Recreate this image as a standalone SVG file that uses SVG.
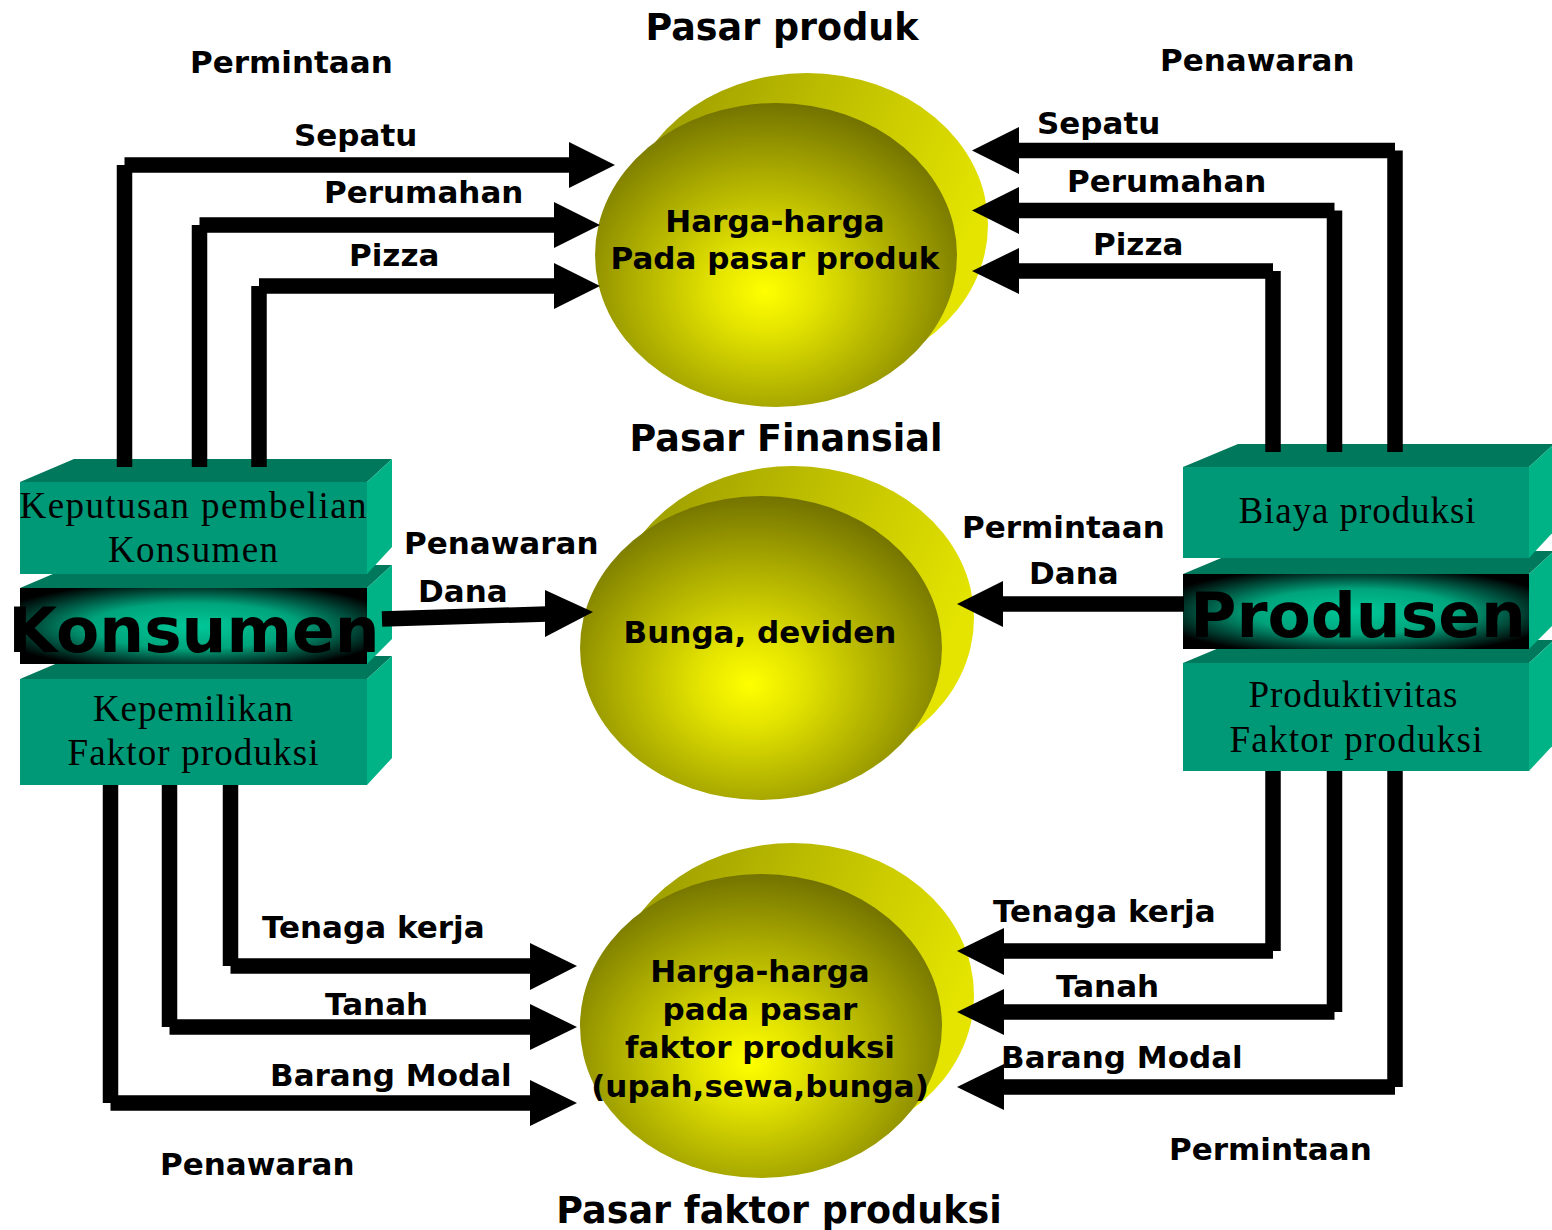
<svg xmlns="http://www.w3.org/2000/svg" width="1552" height="1230" viewBox="0 0 1552 1230">
<defs>
<radialGradient id="ball" cx="0.47" cy="0.6" r="0.6" fx="0.47" fy="0.62">
<stop offset="0" stop-color="#FFFF00"/>
<stop offset="0.25" stop-color="#E2E200"/>
<stop offset="0.65" stop-color="#A8A800"/>
<stop offset="1" stop-color="#737300"/>
</radialGradient>
<linearGradient id="back" x1="0" y1="0" x2="1" y2="0.4">
<stop offset="0" stop-color="#949400"/>
<stop offset="0.5" stop-color="#BDBD00"/>
<stop offset="1" stop-color="#E4E400"/>
</linearGradient>
<radialGradient id="glow" cx="0.5" cy="0.5" r="0.6">
<stop offset="0" stop-color="#00C898"/>
<stop offset="0.5" stop-color="#00A47C"/>
<stop offset="0.78" stop-color="#004838"/>
<stop offset="1" stop-color="#000000"/>
</radialGradient>
</defs>
<style>
.front{fill:#009977}
.top{fill:#00785C}
.side{fill:#00B386}
.glow{fill:url(#glow)}
.serif{font-family:"Liberation Serif","Times New Roman",serif;font-size:37px;fill:#000;text-anchor:middle}
.big{font-family:"DejaVu Sans",Verdana,sans-serif;font-weight:bold;font-size:63px;fill:#000;text-anchor:middle}
.lbl{font-family:"DejaVu Sans",Verdana,sans-serif;font-weight:bold;font-size:31px;fill:#000}
.ctr{text-anchor:middle}
.head{font-family:"DejaVu Sans",Verdana,sans-serif;font-weight:bold;font-size:36.5px;fill:#000;text-anchor:middle}
.ball{fill:url(#ball)}
.back{fill:url(#back)}
.ln{stroke:#000;stroke-width:15.5;fill:none;stroke-linecap:butt}
.ah{fill:#000}
</style>
<rect width="1552" height="1230" fill="#fff"/>

<g id="pasar-produk">
<ellipse class="back" cx="807" cy="225" rx="181" ry="152"/>
<ellipse class="ball" cx="776" cy="255" rx="181" ry="152"/>
<text class="lbl ctr" x="775" y="232">Harga-harga</text>
<text class="lbl ctr" x="775" y="269">Pada pasar produk</text>
</g>

<g id="pasar-finansial">
<ellipse class="back" cx="793" cy="618" rx="181" ry="152"/>
<ellipse class="ball" cx="761" cy="648" rx="181" ry="152"/>
<text class="lbl ctr" x="760" y="643">Bunga, deviden</text>
</g>

<g id="pasar-faktor">
<ellipse class="back" cx="793" cy="995" rx="181" ry="152"/>
<ellipse class="ball" cx="761" cy="1026" rx="181" ry="152"/>
<text class="lbl ctr" x="760" y="982">Harga-harga</text>
<text class="lbl ctr" x="760" y="1020">pada pasar</text>
<text class="lbl ctr" x="760" y="1058">faktor produksi</text>
<text class="lbl ctr" x="760" y="1097">(upah,sewa,bunga)</text>
</g>

<g id="konsumen">
<polygon class="top" points="20,679 74,656 392,656 367,679"/>
<polygon class="side" points="367,679 392,656 392,758 367,785"/>
<rect class="front" x="20" y="679" width="347" height="106"/>
<polygon class="top" points="20,588 74,565 392,565 367,588"/>
<polygon class="side" points="367,588 392,565 392,639 367,664"/>
<rect class="glow" x="20" y="588" width="347" height="76"/>
<polygon class="top" points="20,482 74,459 392,459 367,482"/>
<polygon class="side" points="367,482 392,459 392,547 367,574"/>
<rect class="front" x="20" y="482" width="347" height="92"/>
<text class="serif" x="193" y="518" textLength="347" lengthAdjust="spacing">Keputusan pembelian</text>
<text class="serif" x="193" y="562" textLength="170" lengthAdjust="spacing">Konsumen</text>
<text class="big" x="194" y="652">Konsumen</text>
<text class="serif" x="193" y="721" textLength="200" lengthAdjust="spacing">Kepemilikan</text>
<text class="serif" x="193" y="765" textLength="251" lengthAdjust="spacing">Faktor produksi</text>
</g>

<g id="produsen">
<polygon class="top" points="1183,663 1238,640 1554,640 1529,663"/>
<polygon class="side" points="1529,663 1554,640 1554,744 1529,771"/>
<rect class="front" x="1183" y="663" width="346" height="108"/>
<polygon class="top" points="1183,574 1238,551 1554,551 1529,574"/>
<polygon class="side" points="1529,574 1554,551 1554,624 1529,649"/>
<rect class="glow" x="1183" y="574" width="346" height="75"/>
<polygon class="top" points="1183,467 1238,444 1554,444 1529,467"/>
<polygon class="side" points="1529,467 1554,444 1554,531 1529,558"/>
<rect class="front" x="1183" y="467" width="346" height="91"/>
<text class="serif" x="1357" y="523" textLength="237" lengthAdjust="spacing">Biaya produksi</text>
<text class="big" x="1358" y="637">Produsen</text>
<text class="serif" x="1353" y="707" textLength="209" lengthAdjust="spacing">Produktivitas</text>
<text class="serif" x="1356" y="752" textLength="253" lengthAdjust="spacing">Faktor produksi</text>
</g>

<g id="connectors">
<path class="ln" d="M124.5,467 V165 M124.5,165 H571"/>
<polygon class="ah" points="569,142 615,165 569,188"/>
<path class="ln" d="M199.5,467 V225 M199.5,225 H556"/>
<polygon class="ah" points="554,202 600,225 554,248"/>
<path class="ln" d="M259,467 V286 M259,286 H556"/>
<polygon class="ah" points="554,263 600,286 554,309"/>

<path class="ln" d="M1395,452 V150.5 M1395,150.5 H1017"/>
<polygon class="ah" points="1019,127 972,150.5 1019,174"/>
<path class="ln" d="M1334.5,452 V210.5 M1334.5,210.5 H1017"/>
<polygon class="ah" points="1019,187 972,210.5 1019,234"/>
<path class="ln" d="M1273,452 V271 M1273,271 H1017"/>
<polygon class="ah" points="1019,248 972,271 1019,294"/>

<path class="ln" d="M382,619 L547,614"/>
<polygon class="ah" points="545,590 593,612 545,637"/>
<path class="ln" d="M1184,604 H1001"/>
<polygon class="ah" points="1003,581 957,604 1003,627"/>

<path class="ln" d="M230.5,785 V966 M230.5,966 H532"/>
<polygon class="ah" points="530,943 577,966 530,990"/>
<path class="ln" d="M169.5,785 V1027 M169.5,1027 H532"/>
<polygon class="ah" points="530,1004 577,1027 530,1050"/>
<path class="ln" d="M110.5,785 V1103 M110.5,1103 H532"/>
<polygon class="ah" points="530,1080 577,1103 530,1126"/>

<path class="ln" d="M1273,771 V951 M1273,951 H1002"/>
<polygon class="ah" points="1004,928 957,951 1004,975"/>
<path class="ln" d="M1334.5,771 V1012 M1334.5,1012 H1002"/>
<polygon class="ah" points="1004,989 957,1012 1004,1035"/>
<path class="ln" d="M1395,771 V1087 M1395,1087 H1002"/>
<polygon class="ah" points="1004,1064 957,1087 1004,1110"/>
</g>

<g id="labels">
<text class="head" x="782" y="40">Pasar produk</text>
<text class="head" x="786" y="451">Pasar Finansial</text>
<text class="head" x="779" y="1223">Pasar faktor produksi</text>
<text class="lbl" x="190" y="73">Permintaan</text>
<text class="lbl" x="1160" y="71">Penawaran</text>
<text class="lbl" x="294" y="146">Sepatu</text>
<text class="lbl" x="324" y="203">Perumahan</text>
<text class="lbl" x="349" y="266">Pizza</text>
<text class="lbl" x="1037" y="134">Sepatu</text>
<text class="lbl" x="1067" y="192">Perumahan</text>
<text class="lbl" x="1093" y="255">Pizza</text>
<text class="lbl" x="404" y="554">Penawaran</text>
<text class="lbl" x="418" y="602">Dana</text>
<text class="lbl" x="962" y="538">Permintaan</text>
<text class="lbl" x="1029" y="584">Dana</text>
<text class="lbl" x="262" y="938">Tenaga kerja</text>
<text class="lbl" x="325" y="1015">Tanah</text>
<text class="lbl" x="270" y="1086">Barang Modal</text>
<text class="lbl" x="160" y="1175">Penawaran</text>
<text class="lbl" x="993" y="922">Tenaga kerja</text>
<text class="lbl" x="1056" y="997">Tanah</text>
<text class="lbl" x="1001" y="1068">Barang Modal</text>
<text class="lbl" x="1169" y="1160">Permintaan</text>
</g>
</svg>
